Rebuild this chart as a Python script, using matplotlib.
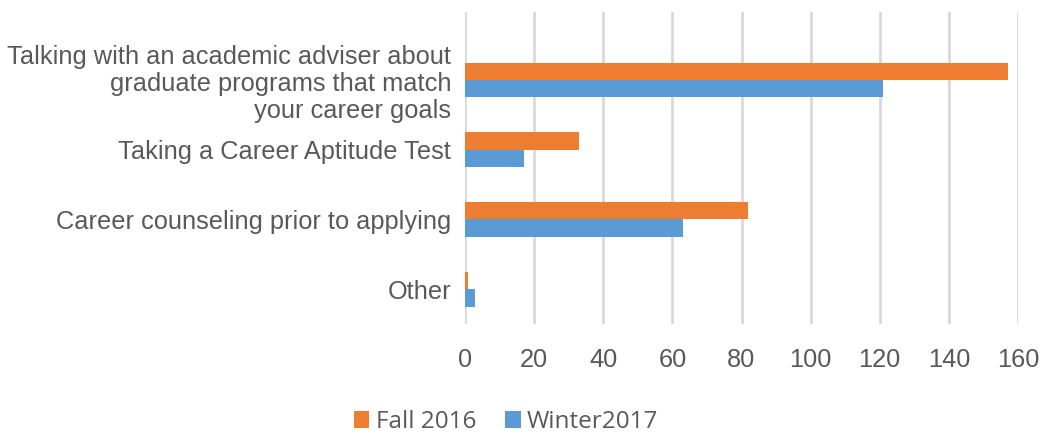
import matplotlib
matplotlib.use("Agg")
import matplotlib.pyplot as plt
import numpy as np

categories = [
    "Talking with an academic adviser about\ngraduate programs that match\nyour career goals",
    "Taking a Career Aptitude Test",
    "Career counseling prior to applying",
    "Other",
]
fall_2016 = [157, 33, 82, 1]
winter_2017 = [121, 17, 63, 3]
series_names = ["Fall 2016", "Winter2017"]
x_ticks = [0, 20, 40, 60, 80, 100, 120, 140, 160]

ORANGE = "#ED7D31"
BLUE = "#5B9BD5"
GRAY = "#595959"

fig = plt.figure(figsize=(10.44, 4.36), dpi=100)
ax = fig.add_axes([465/1044, 1-324/436, (1018-465)/1044, (324-12)/436])

y = np.arange(len(categories))
h = 0.25
ax.barh(y - h/2, fall_2016, height=h, color=ORANGE, label=series_names[0], zorder=3)
ax.barh(y + h/2, winter_2017, height=h, color=BLUE, label=series_names[1], zorder=3)

ax.set_ylim(3.5, -0.5 - 33/69.5)
ax.set_xlim(0, 160)
ax.set_xticks(x_ticks)
ax.set_yticks(y)
ax.set_yticklabels(categories, fontfamily="Liberation Sans", fontsize=18.3,
                   color=GRAY, linespacing=1.17, ha="right")
for lbl in ax.get_xticklabels():
    lbl.set_fontfamily("Liberation Sans")
    lbl.set_fontsize(18.3)
    lbl.set_color(GRAY)

ax.tick_params(axis="y", length=0, pad=10)
ax.tick_params(axis="x", length=0, pad=17)
ax.xaxis.grid(True, color="#D9D9D9", linewidth=2, zorder=0)
for s in ax.spines.values():
    s.set_visible(False)

leg = fig.legend(loc="center", bbox_to_anchor=(506/1044, 1-422/436), ncol=2,
                 frameon=False, prop={"family": "Open Sans", "size": 17.5},
                 handlelength=0.65, handleheight=0.65, handletextpad=0.25,
                 columnspacing=1.2, borderpad=0.2)
for t in leg.get_texts():
    t.set_color(GRAY)

fig.savefig("out.png", dpi=100)
